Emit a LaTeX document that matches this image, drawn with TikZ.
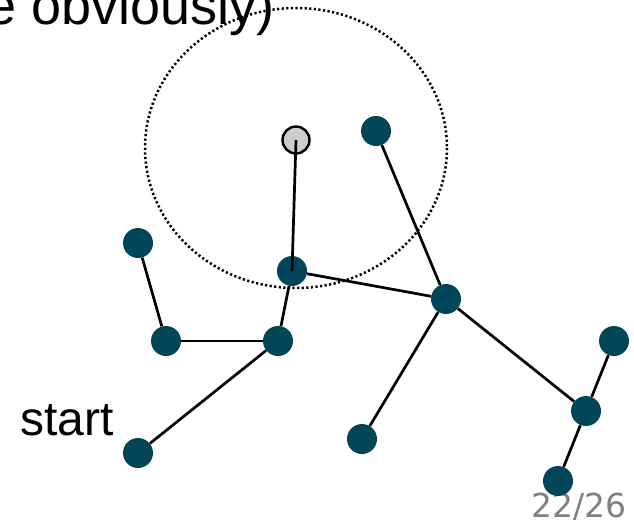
\documentclass[tikz,border=0pt]{standalone}
\usepackage{fontspec}
\setmainfont{Liberation Sans}
\newfontfamily\pagenofont{DejaVu Sans}
\definecolor{vertexteal}{RGB}{0,70,88}
\definecolor{pagegray}{RGB}{128,128,128}
\definecolor{probegray}{RGB}{204,204,204}
\begin{document}
\begin{tikzpicture}[x=1pt,y=-1pt,
  vertex/.style={circle,fill=vertexteal,minimum size=30pt,inner sep=0pt},
  probe/.style={circle,fill=probegray,draw=black,line width=2.4pt,minimum size=27pt,inner sep=0pt},
  edge/.style={line width=2.7pt,black},
  reach/.style={line width=2.5pt,dash pattern=on 2.2pt off 2.4pt,black}]
\useasboundingbox (0,0) rectangle (634,523);
\clip (0,0) rectangle (634,523);

% heading fragment and labels
\node[anchor=base east,inner sep=0pt,font=\fontsize{54}{60}\selectfont] (title) at (275,24) {e obviously)};
\node[anchor=base west,inner sep=0pt,font=\fontsize{48}{54}\selectfont] (startlbl) at (20,435) {start};
\node[anchor=base east,inner sep=0pt,text=pagegray,font=\pagenofont\fontsize{33}{38}\selectfont] (pageno) at (627,517) {22/26};

% search radius around the new sample
\draw[reach] (296,148) ellipse [x radius=151, y radius=140];

% tree vertices
\node[vertex] (a) at (138,243) {};
\node[vertex] (b) at (166,341) {};
\node[vertex] (c) at (278,341) {};
\node[vertex] (d) at (292,271) {};
\node[vertex] (e) at (376,131) {};
\node[vertex] (f) at (446,299) {};
\node[vertex] (g) at (138,453) {};
\node[vertex] (h) at (362,439) {};
\node[vertex] (i) at (614,341) {};
\node[vertex] (j) at (586,411) {};
\node[vertex] (k) at (558,481) {};
\node[probe] (p) at (296,140) {};

% tree edges
\draw[edge] (a) -- (b);
\draw[edge] (b) -- (c);
\draw[edge] (c) -- (d);
\draw[edge] (c) -- (g);
\draw[edge] (d) -- (f);
\draw[edge] (e) -- (f);
\draw[edge] (f) -- (h);
\draw[edge] (f) -- (j);
\draw[edge] (j) -- (i);
\draw[edge] (j) -- (k);

% new connection, drawn center to center
\draw[edge] (p.center) -- (d.center);
\end{tikzpicture}
\end{document}
